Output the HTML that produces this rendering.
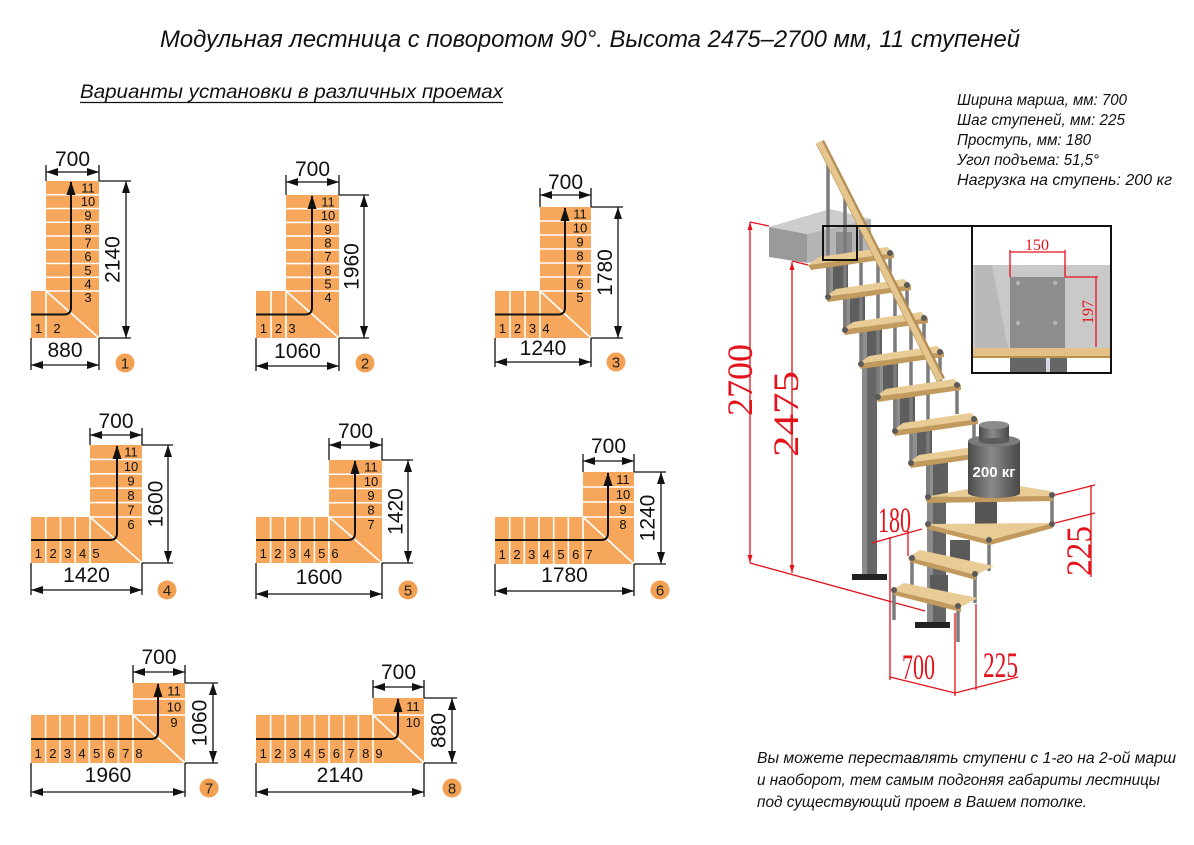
<!DOCTYPE html>
<html><head><meta charset="utf-8"><style>
html,body{margin:0;padding:0;background:#fff;}
svg{display:block;}
.o{fill:#F6A75C}
.w{stroke:#fff;stroke-width:1.6;fill:none}
.k{stroke:#111;stroke-width:1.3;fill:none}
.ar{stroke:#111;stroke-width:2;fill:none}
.n{font-family:"Liberation Sans",sans-serif;font-size:13px;fill:#111;text-anchor:middle}
.d{font-family:"Liberation Sans",sans-serif;font-size:21px;fill:#111;text-anchor:middle}
.c{fill:#F2A052}
.cn{font-family:"Liberation Sans",sans-serif;font-size:15px;fill:#222;text-anchor:middle}
.r{stroke:#e3121b;stroke-width:1.3;fill:none}
.rt{font-family:"Liberation Serif",serif;font-size:36px;fill:#e3121b}
.it{font-family:"Liberation Sans","Noto Sans CJK SC",sans-serif;font-style:italic;fill:#111}
.tt{fill:#e8cb95}
.tb{fill:#c29a5e}
.p{stroke:#7b7b7b;stroke-width:3.5;fill:none}
</style></head><body>
<svg width="1194" height="845" viewBox="0 0 1194 845" xmlns="http://www.w3.org/2000/svg">
<defs>
<marker id="a" viewBox="0 0 12 8" refX="12" refY="4" markerWidth="12" markerHeight="8" markerUnits="userSpaceOnUse" orient="auto-start-reverse"><path d="M0,0L12,4L0,8z" fill="#111"/></marker>
<marker id="b" viewBox="0 0 14 9" refX="13" refY="4.5" markerWidth="14" markerHeight="9" markerUnits="userSpaceOnUse" orient="auto"><path d="M0,0L14,4.5L0,9z" fill="#111"/></marker>
<marker id="rm" viewBox="0 0 8 5" refX="8" refY="2.5" markerWidth="8" markerHeight="5" markerUnits="userSpaceOnUse" orient="auto-start-reverse"><path d="M0,0L8,2.5L0,5z" fill="#e3121b"/></marker>
<linearGradient id="g" x1="0" x2="1" y1="0" y2="0"><stop offset="0" stop-color="#4b4b49"/><stop offset="0.45" stop-color="#8a8a88"/><stop offset="1" stop-color="#484846"/></linearGradient>
</defs>

<!-- Titles -->
<text class="it" x="160" y="47" font-size="24" textLength="860" lengthAdjust="spacingAndGlyphs">Модульная лестница с поворотом 90°. Высота 2475–2700 мм, 11 ступеней</text>
<text class="it" x="80" y="98" font-size="19" textLength="423" lengthAdjust="spacingAndGlyphs">Варианты установки в различных проемах</text>
<line x1="80" y1="102.5" x2="503" y2="102.5" stroke="#111" stroke-width="1.3"/>

<!-- Specs -->
<text class="it" x="957" y="105" font-size="16" textLength="170" lengthAdjust="spacingAndGlyphs">Ширина марша, мм: 700</text>
<text class="it" x="957" y="125" font-size="16" textLength="168" lengthAdjust="spacingAndGlyphs">Шаг ступеней, мм: 225</text>
<text class="it" x="957" y="145" font-size="16" textLength="134" lengthAdjust="spacingAndGlyphs">Проступь, мм: 180</text>
<text class="it" x="957" y="165" font-size="16" textLength="142" lengthAdjust="spacingAndGlyphs">Угол подъема: 51,5°</text>
<text class="it" x="957" y="185" font-size="16" textLength="215" lengthAdjust="spacingAndGlyphs">Нагрузка на ступень: 200 кг</text>

<!-- Bottom note -->
<text class="it" x="757" y="763" font-size="16" textLength="419" lengthAdjust="spacingAndGlyphs">Вы можете переставлять ступени с 1-го на 2-ой марш</text>
<text class="it" x="757" y="785" font-size="16" textLength="403" lengthAdjust="spacingAndGlyphs">и наоборот, тем самым подгоняя габариты лестницы</text>
<text class="it" x="757" y="807" font-size="16" textLength="330" lengthAdjust="spacingAndGlyphs">под существующий проем в Вашем потолке.</text>

<!-- ===== Variant 1 ===== -->
<path class="o" d="M46,181H99V338H31V291H46Z"/>
<path class="w" d="M46,194.75H99M46,208.5H99M46,222.25H99M46,236H99M46,249.75H99M46,263.5H99M46,277.25H99M46,291H99M46,291V338M46,291L99,338"/>
<g class="n"><text x="88" y="192.5">11</text><text x="88" y="206.2">10</text><text x="88" y="220">9</text><text x="88" y="233.7">8</text><text x="88" y="247.5">7</text><text x="88" y="261.2">6</text><text x="88" y="275">5</text><text x="88" y="288.7">4</text><text x="88" y="302">3</text><text x="38.5" y="333">1</text><text x="57" y="333">2</text></g>
<path class="ar" d="M31,314.5H64Q71,314.5 71,307.5V182" marker-end="url(#b)"/>
<path class="k" d="M46,165V181M99,165V181M99,181H131M99,338H131M31,338V370M99,338V370"/>
<line class="k" x1="46" y1="172" x2="99" y2="172" marker-start="url(#a)" marker-end="url(#a)"/>
<line class="k" x1="126" y1="181" x2="126" y2="338" marker-start="url(#a)" marker-end="url(#a)"/>
<line class="k" x1="31" y1="365" x2="99" y2="365" marker-start="url(#a)" marker-end="url(#a)"/>
<text class="d" x="72.5" y="166">700</text>
<text class="d" transform="translate(112,259.5) rotate(-90)" y="7.5">2140</text>
<text class="d" x="65" y="357">880</text>
<circle class="c" cx="125" cy="363" r="9.5"/><text class="cn" x="125" y="368.5">1</text>

<!-- ===== Variant 2 ===== -->
<path class="o" d="M286,195H339V338H256V291H286Z"/>
<path class="w" d="M286,208.7H339M286,222.4H339M286,236.1H339M286,249.9H339M286,263.6H339M286,277.3H339M286,291H339M271,291V338M286,291V338M286,291L339,338"/>
<g class="n"><text x="328" y="206.4">11</text><text x="328" y="220.1">10</text><text x="328" y="233.8">9</text><text x="328" y="247.5">8</text><text x="328" y="261.2">7</text><text x="328" y="274.9">6</text><text x="328" y="288.6">5</text><text x="328" y="302">4</text><text x="263.5" y="333">1</text><text x="278.5" y="333">2</text><text x="292" y="333">3</text></g>
<path class="ar" d="M256,314.5H305Q312,314.5 312,307.5V196" marker-end="url(#b)"/>
<path class="k" d="M286,175V195M339,175V195M339,195H369M339,338H369M256,338V371M339,338V371"/>
<line class="k" x1="286" y1="182" x2="339" y2="182" marker-start="url(#a)" marker-end="url(#a)"/>
<line class="k" x1="364" y1="195" x2="364" y2="338" marker-start="url(#a)" marker-end="url(#a)"/>
<line class="k" x1="256" y1="366" x2="339" y2="366" marker-start="url(#a)" marker-end="url(#a)"/>
<text class="d" x="312.5" y="176">700</text>
<text class="d" transform="translate(351,266.5) rotate(-90)" y="7.5">1960</text>
<text class="d" x="297.5" y="358">1060</text>
<circle class="c" cx="365" cy="363" r="9.5"/><text class="cn" x="365" y="368.5">2</text>

<!-- ===== Variant 3 ===== -->
<path class="o" d="M540,207H591V338H495V291H540Z"/>
<path class="w" d="M540,221H591M540,235H591M540,249H591M540,263H591M540,277H591M540,291H591M510,291V338M525,291V338M540,291V338M540,291L591,338"/>
<g class="n"><text x="580" y="218.5">11</text><text x="580" y="232.5">10</text><text x="580" y="246.5">9</text><text x="580" y="260.5">8</text><text x="580" y="274.5">7</text><text x="580" y="288.5">6</text><text x="580" y="302">5</text><text x="502.5" y="333">1</text><text x="517.5" y="333">2</text><text x="532.5" y="333">3</text><text x="546" y="333">4</text></g>
<path class="ar" d="M495,314.5H558Q565,314.5 565,307.5V208" marker-end="url(#b)"/>
<path class="k" d="M540,188V207M591,188V207M591,207H623M591,338H623M495,338V367M591,338V367"/>
<line class="k" x1="540" y1="195" x2="591" y2="195" marker-start="url(#a)" marker-end="url(#a)"/>
<line class="k" x1="618" y1="207" x2="618" y2="338" marker-start="url(#a)" marker-end="url(#a)"/>
<line class="k" x1="495" y1="362" x2="591" y2="362" marker-start="url(#a)" marker-end="url(#a)"/>
<text class="d" x="565.5" y="189">700</text>
<text class="d" transform="translate(604.5,272.5) rotate(-90)" y="7.5">1780</text>
<text class="d" x="543" y="355">1240</text>
<circle class="c" cx="616" cy="362" r="9.5"/><text class="cn" x="616" y="367.5">3</text>

<!-- ===== Variant 4 ===== -->
<path class="o" d="M90,445H142V563H31V517H90Z"/>
<path class="w" d="M90,459.4H142M90,473.8H142M90,488.2H142M90,502.6H142M90,517H142M45.75,517V563M60.5,517V563M75.25,517V563M90,517V563M90,517L142,563"/>
<g class="n"><text x="131" y="456.7">11</text><text x="131" y="471.1">10</text><text x="131" y="485.5">9</text><text x="131" y="499.9">8</text><text x="131" y="514.3">7</text><text x="131" y="529">6</text><text x="38.4" y="558">1</text><text x="53.1" y="558">2</text><text x="67.9" y="558">3</text><text x="82.6" y="558">4</text><text x="96" y="558">5</text></g>
<path class="ar" d="M31,540H110Q117,540 117,533V446" marker-end="url(#b)"/>
<path class="k" d="M90,428V445M142,428V445M142,445H173M142,563H173M31,563V595M142,563V595"/>
<line class="k" x1="90" y1="435" x2="142" y2="435" marker-start="url(#a)" marker-end="url(#a)"/>
<line class="k" x1="168" y1="445" x2="168" y2="563" marker-start="url(#a)" marker-end="url(#a)"/>
<line class="k" x1="31" y1="590" x2="142" y2="590" marker-start="url(#a)" marker-end="url(#a)"/>
<text class="d" x="116" y="428">700</text>
<text class="d" transform="translate(155,504) rotate(-90)" y="7.5">1600</text>
<text class="d" x="86.5" y="582">1420</text>
<circle class="c" cx="167" cy="590" r="9.5"/><text class="cn" x="167" y="595.5">4</text>

<!-- ===== Variant 5 ===== -->
<path class="o" d="M329,460H382V563H256V517H329Z"/>
<path class="w" d="M329,474.25H382M329,488.5H382M329,502.75H382M329,517H382M270.6,517V563M285.2,517V563M299.8,517V563M314.4,517V563M329,517V563M329,517L382,563"/>
<g class="n"><text x="371" y="471.6">11</text><text x="371" y="485.9">10</text><text x="371" y="500.1">9</text><text x="371" y="514.4">8</text><text x="371" y="529">7</text><text x="263.3" y="558">1</text><text x="277.9" y="558">2</text><text x="292.5" y="558">3</text><text x="307.1" y="558">4</text><text x="321.7" y="558">5</text><text x="335" y="558">6</text></g>
<path class="ar" d="M256,540H348Q355,540 355,533V461" marker-end="url(#b)"/>
<path class="k" d="M329,438V460M382,438V460M382,460H413M382,563H413M256,563V599M382,563V599"/>
<line class="k" x1="329" y1="445" x2="382" y2="445" marker-start="url(#a)" marker-end="url(#a)"/>
<line class="k" x1="408" y1="460" x2="408" y2="563" marker-start="url(#a)" marker-end="url(#a)"/>
<line class="k" x1="256" y1="594" x2="382" y2="594" marker-start="url(#a)" marker-end="url(#a)"/>
<text class="d" x="355.5" y="438">700</text>
<text class="d" transform="translate(395,511.5) rotate(-90)" y="7.5">1420</text>
<text class="d" x="319" y="584">1600</text>
<circle class="c" cx="408" cy="590" r="9.5"/><text class="cn" x="408" y="595.5">5</text>

<!-- ===== Variant 6 ===== -->
<path class="o" d="M583,472H634V564H495V517H583Z"/>
<path class="w" d="M583,487H634M583,502H634M583,517H634M509.7,517V564M524.3,517V564M539,517V564M553.7,517V564M568.3,517V564M583,517V564M583,517L634,564"/>
<g class="n"><text x="623" y="484">11</text><text x="623" y="499">10</text><text x="623" y="514">9</text><text x="623" y="529">8</text><text x="502.3" y="559">1</text><text x="517" y="559">2</text><text x="531.7" y="559">3</text><text x="546.3" y="559">4</text><text x="561" y="559">5</text><text x="575.7" y="559">6</text><text x="589" y="559">7</text></g>
<path class="ar" d="M495,540H601Q608,540 608,533V473" marker-end="url(#b)"/>
<path class="k" d="M583,454V472M634,454V472M634,472H666M634,564H666M495,564V596M634,564V596"/>
<line class="k" x1="583" y1="461" x2="634" y2="461" marker-start="url(#a)" marker-end="url(#a)"/>
<line class="k" x1="661" y1="472" x2="661" y2="564" marker-start="url(#a)" marker-end="url(#a)"/>
<line class="k" x1="495" y1="591" x2="634" y2="591" marker-start="url(#a)" marker-end="url(#a)"/>
<text class="d" x="608.5" y="453">700</text>
<text class="d" transform="translate(647,518) rotate(-90)" y="7.5">1240</text>
<text class="d" x="564.5" y="582">1780</text>
<circle class="c" cx="660" cy="590" r="9.5"/><text class="cn" x="660" y="595.5">6</text>

<!-- ===== Variant 7 ===== -->
<path class="o" d="M133,683H185V763H31V715H133Z"/>
<path class="w" d="M133,699H185M133,715H185M45.6,715V763M60.1,715V763M74.7,715V763M89.3,715V763M103.9,715V763M118.4,715V763M133,715V763M133,715L185,763"/>
<g class="n"><text x="174" y="695.5">11</text><text x="174" y="711.5">10</text><text x="174" y="727">9</text><text x="38.3" y="758">1</text><text x="52.9" y="758">2</text><text x="67.4" y="758">3</text><text x="82" y="758">4</text><text x="96.6" y="758">5</text><text x="111.1" y="758">6</text><text x="125.7" y="758">7</text><text x="139" y="758">8</text></g>
<path class="ar" d="M31,739H151Q158,739 158,732V684" marker-end="url(#b)"/>
<path class="k" d="M133,665V683M185,665V683M185,683H218M185,763H218M31,763V797M185,763V797"/>
<line class="k" x1="133" y1="672" x2="185" y2="672" marker-start="url(#a)" marker-end="url(#a)"/>
<line class="k" x1="213" y1="683" x2="213" y2="763" marker-start="url(#a)" marker-end="url(#a)"/>
<line class="k" x1="31" y1="792" x2="185" y2="792" marker-start="url(#a)" marker-end="url(#a)"/>
<text class="d" x="159" y="664">700</text>
<text class="d" transform="translate(199,723) rotate(-90)" y="7.5">1060</text>
<text class="d" x="108" y="782">1960</text>
<circle class="c" cx="209" cy="788" r="9.5"/><text class="cn" x="209" y="793.5">7</text>

<!-- ===== Variant 8 ===== -->
<path class="o" d="M373,698H424V763H256V715H373Z"/>
<path class="w" d="M373,715H424M270.6,715V763M285.3,715V763M299.9,715V763M314.5,715V763M329.1,715V763M343.8,715V763M358.4,715V763M373,715V763M373,715L424,763"/>
<g class="n"><text x="413" y="711">11</text><text x="413" y="727">10</text><text x="263.3" y="758">1</text><text x="277.9" y="758">2</text><text x="292.6" y="758">3</text><text x="307.2" y="758">4</text><text x="321.8" y="758">5</text><text x="336.4" y="758">6</text><text x="351.1" y="758">7</text><text x="365.7" y="758">8</text><text x="379" y="758">9</text></g>
<path class="ar" d="M256,739H391Q398,739 398,732V699" marker-end="url(#b)"/>
<path class="k" d="M373,680V698M424,680V698M424,698H457M424,763H457M256,763V797M424,763V797"/>
<line class="k" x1="373" y1="687" x2="424" y2="687" marker-start="url(#a)" marker-end="url(#a)"/>
<line class="k" x1="452" y1="698" x2="452" y2="763" marker-start="url(#a)" marker-end="url(#a)"/>
<line class="k" x1="256" y1="792" x2="424" y2="792" marker-start="url(#a)" marker-end="url(#a)"/>
<text class="d" x="398.5" y="679">700</text>
<text class="d" transform="translate(438,730.5) rotate(-90)" y="7.5">880</text>
<text class="d" x="340" y="782">2140</text>
<circle class="c" cx="452" cy="788" r="9.5"/><text class="cn" x="452" y="793.5">8</text>

<!-- ===== 3D staircase ===== -->
<!-- red dimensions (left/bottom) -->
<line class="r" x1="750" y1="222" x2="750" y2="563" marker-start="url(#rm)" marker-end="url(#rm)"/>
<line class="r" x1="792" y1="262" x2="792" y2="573" marker-start="url(#rm)" marker-end="url(#rm)"/>
<path class="r" d="M750,222L769,226M792,261L808,265M750,563L925,611"/>
<text class="rt" transform="translate(740,380) rotate(-90)" y="12" text-anchor="middle" textLength="72" lengthAdjust="spacingAndGlyphs">2700</text>
<text class="rt" transform="translate(786,414) rotate(-90)" y="12" text-anchor="middle" textLength="86" lengthAdjust="spacingAndGlyphs">2475</text>

<!-- slab -->
<polygon points="769,227 830,209 871,219 807,234" fill="#cdcdcd"/>
<polygon points="769,227 807,234 807,263 769,257" fill="#9a9a9a"/>
<polygon points="807,234 871,219 871,252 807,263" fill="#b4b4b4"/>
<rect x="836" y="232" width="16" height="27" fill="#8c8c8c"/>

<!-- modules / columns -->
<g fill="#5e5e5e">
<rect x="826" y="263" width="22" height="34"/><rect x="843" y="295" width="22" height="35"/><rect x="860" y="328" width="22" height="36"/><rect x="876" y="362" width="22" height="35"/><rect x="893" y="395" width="22" height="36"/><rect x="910" y="429" width="22" height="34"/><rect x="926" y="461" width="22" height="36"/>
</g>
<g fill="#8f8f8f">
<rect x="826" y="263" width="7" height="34"/><rect x="843" y="295" width="7" height="35"/><rect x="860" y="328" width="7" height="36"/><rect x="876" y="362" width="7" height="35"/><rect x="893" y="395" width="7" height="36"/><rect x="910" y="429" width="7" height="34"/><rect x="926" y="461" width="7" height="36"/>
</g>
<rect x="862" y="367" width="15" height="208" fill="#666"/><rect x="862" y="367" width="5" height="208" fill="#8a8a8a"/>
<rect x="852" y="574" width="35" height="6" fill="#222"/>
<rect x="927" y="498" width="19" height="125" fill="#646464"/><rect x="927" y="498" width="6" height="125" fill="#8a8a8a"/>
<rect x="915" y="622" width="35" height="6" fill="#222"/>
<rect x="975" y="500" width="22" height="26" fill="#555"/>
<rect x="950" y="540" width="20" height="22" fill="#5a5a5a"/>
<rect x="930" y="575" width="18" height="20" fill="#5a5a5a"/>

<!-- posts (behind treads) -->
<path class="p" d="M828,157V297M845,190V330M861,221V364M878,254V397M895,287V431M911,318V463M928,351V497M890,254V282M907,286V314M924,319V347M940,353V381M957,386V414M974,420V448M894,590V620M958,607V642M912,560V590M975,575V603M989,541V571M1052,497V525"/>

<!-- treads upper flight -->
<polygon class="tt" points="808,265 819,257 887,247 894,253"/><polygon class="tb" points="808,265 894,253 894,258 811,270"/>
<polygon class="tt" points="825,297 836,289 904,279 911,285"/><polygon class="tb" points="825,297 911,285 911,290 828,302"/>
<polygon class="tt" points="842,330 853,322 921,312 928,318"/><polygon class="tb" points="842,330 928,318 928,323 845,335"/>
<polygon class="tt" points="858,364 869,356 937,346 944,352"/><polygon class="tb" points="858,364 944,352 944,357 861,369"/>
<polygon class="tt" points="875,397 886,389 954,379 961,385"/><polygon class="tb" points="875,397 961,385 961,390 878,402"/>
<polygon class="tt" points="892,431 903,423 971,413 978,419"/><polygon class="tb" points="892,431 978,419 978,424 895,436"/>
<polygon class="tt" points="908,463 919,455 987,445 994,451"/><polygon class="tb" points="908,463 994,451 994,456 911,468"/>
<!-- winders -->
<polygon class="tt" points="925,497 1000,483 1050,491 1053,496"/><polygon class="tb" points="925,497 1053,496 1053,501 927,503"/>
<polygon class="tt" points="925,524 1053,523 990,540"/><polygon class="tb" points="990,540 1053,523 1053,528 990,545"/><polygon class="tb" points="925,524 990,540 990,545 927,529"/>
<!-- lower flight -->
<polygon class="tt" points="908,557 920,550 994,566 976,575"/><polygon class="tb" points="908,557 976,575 976,580 910,562"/>
<polygon class="tt" points="892,590 904,583 978,598 961,607"/><polygon class="tb" points="892,590 961,607 961,612 894,595"/>

<!-- caps -->
<g fill="#5a5a5a">
<circle cx="828" cy="297" r="3"/><circle cx="845" cy="330" r="3"/><circle cx="861" cy="364" r="3"/><circle cx="878" cy="397" r="3"/><circle cx="895" cy="431" r="3"/><circle cx="911" cy="463" r="3"/><circle cx="928" cy="497" r="3"/>
<circle cx="890" cy="253" r="3"/><circle cx="907" cy="285" r="3"/><circle cx="924" cy="318" r="3"/><circle cx="940" cy="352" r="3"/><circle cx="957" cy="385" r="3"/><circle cx="974" cy="419" r="3"/>
<circle cx="1052" cy="495" r="3"/><circle cx="1052" cy="524" r="3"/><circle cx="989" cy="540" r="3"/><circle cx="928" cy="524" r="3"/><circle cx="912" cy="558" r="3"/><circle cx="975" cy="574" r="3"/><circle cx="894" cy="590" r="3"/><circle cx="958" cy="606" r="3"/>
</g>

<!-- weight -->
<rect x="968" y="441" width="52" height="52" fill="url(#g)"/>
<ellipse cx="994" cy="493" rx="26" ry="5" fill="url(#g)"/>
<ellipse cx="994" cy="441" rx="26" ry="6" fill="#7b7b79"/>
<rect x="979" y="425" width="30" height="16" fill="url(#g)"/>
<ellipse cx="994" cy="441" rx="15" ry="3" fill="#5c5c5a"/>
<ellipse cx="994" cy="425" rx="15" ry="4" fill="#8c8c8a"/>
<text x="994" y="477" text-anchor="middle" font-family="Liberation Sans,sans-serif" font-size="15" font-weight="bold" fill="#fff">200 кг</text>

<!-- handrail -->
<line x1="820" y1="142" x2="941" y2="380" stroke="#b58f55" stroke-width="9"/>
<line x1="819" y1="142" x2="940" y2="380" stroke="#e6c68f" stroke-width="6"/>

<!-- red dims right/bottom -->
<path class="r" d="M872,543L922,529M890,537V680M908,531V556M1055,495L1095,485M1055,523L1095,513M1091,485V577M890,677L955,693M955,613V696M955,693L1018,677M976,604V690"/>
<text class="rt" x="878" y="532" textLength="33" lengthAdjust="spacingAndGlyphs">180</text>
<text class="rt" transform="translate(1079,551) rotate(-90)" y="12" text-anchor="middle" textLength="50" lengthAdjust="spacingAndGlyphs">225</text>
<text class="rt" x="902" y="679" textLength="33" lengthAdjust="spacingAndGlyphs">700</text>
<text class="rt" x="983" y="677" textLength="35" lengthAdjust="spacingAndGlyphs">225</text>

<!-- inset detail -->
<rect x="973" y="265" width="137" height="83" fill="#c9c9c9"/>
<polygon points="975,265 992,265 1008,348 975,348" fill="#b9b9b9"/>
<rect x="1010" y="277" width="55" height="71" fill="#8d8d8d"/>
<g fill="#b3b3b3"><circle cx="1018" cy="283" r="2.2"/><circle cx="1055" cy="283" r="2.2"/><circle cx="1018" cy="323" r="2.2"/><circle cx="1055" cy="323" r="2.2"/></g>
<rect x="973" y="348" width="137" height="10" fill="#e4c086"/>
<rect x="973" y="356" width="137" height="2" fill="#b8914f"/>
<rect x="1010" y="358" width="57" height="14" fill="#666"/>
<rect x="1046" y="358" width="4" height="14" fill="#d8d8e0"/>
<path class="r" d="M1010,277V250M1065,277V250M1010,252H1065M1065,277H1098M1096,277V347"/>
<text x="1037" y="250" text-anchor="middle" font-family="Liberation Serif,serif" font-size="16" fill="#e3121b">150</text>
<text transform="translate(1088,312) rotate(-90)" y="5" text-anchor="middle" font-family="Liberation Serif,serif" font-size="16" fill="#e3121b">197</text>

<!-- detail boxes -->
<rect x="823" y="226" width="34" height="34" fill="none" stroke="#111" stroke-width="2"/>
<line x1="857" y1="226" x2="972" y2="226" stroke="#111" stroke-width="2"/>
<rect x="972" y="226" width="139" height="147" fill="none" stroke="#111" stroke-width="2"/>
</svg>
</body></html>
